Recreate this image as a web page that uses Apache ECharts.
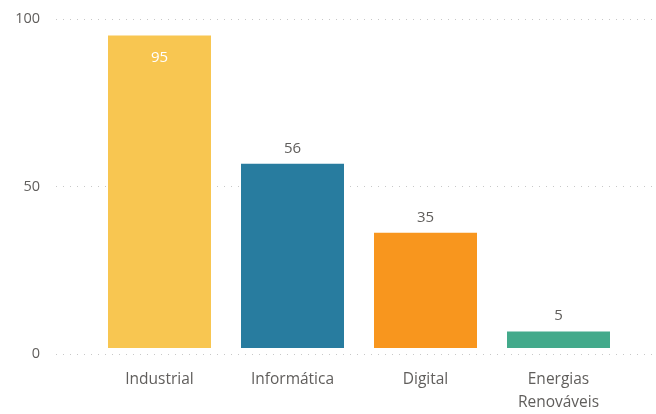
<!DOCTYPE html>
<html><head><meta charset="utf-8">
<script src="https://cdn.jsdelivr.net/npm/echarts@6/dist/echarts.min.js"></script>
<style>html,body{margin:0;padding:0;background:#fff}#c{width:656px;height:414px}</style>
</head><body><div id="c"></div>
<script>
const categories = ['Industrial', 'Informática', 'Digital', 'Energias\nRenováveis'];
const values = [95, 56, 35, 5];
const colors = ['#F8C651', '#287C9F', '#F8961E', '#43AA8B'];
const yTicks = [0, 50, 100];

const chart = echarts.init(document.getElementById('c'));
const font = '"Open Sans", "Noto Sans", sans-serif';
chart.setOption({
  animation: false,
  grid: [
    { left: 56, right: 0, top: 19, bottom: 60 },
    { left: 93, right: 31, top: 19, bottom: 60 }
  ],
  xAxis: [
    { gridIndex: 0, type: 'value', show: false, min: 0, max: 1 },
    { gridIndex: 1, type: 'category', data: categories,
      axisLine: { show: false }, axisTick: { show: false },
      axisLabel: { color: '#605E5C', fontSize: 15.5, fontFamily: font, margin: 20, lineHeight: 23 } }
  ],
  yAxis: [
    { gridIndex: 0, type: 'value', min: 0, max: 100, interval: 50,
      axisLine: { show: false }, axisTick: { show: false },
      axisLabel: { color: '#605E5C', fontSize: 14.5, fontFamily: font, margin: 16,
        formatter: v => yTicks.includes(v) ? String(v) : '' },
      splitLine: { lineStyle: { color: '#c8c8c8', type: [1, 6], width: 1 } } },
    { gridIndex: 1, type: 'value', min: 0, max: 100, interval: 50, show: false }
  ],
  series: [{
    type: 'bar', xAxisIndex: 1, yAxisIndex: 1,
    barWidth: 103,
    data: values.map((v, i) => ({
      value: v,
      itemStyle: { color: colors[i] },
      label: i === 0
        ? { show: true, position: 'insideTop', distance: 15, color: '#fff', fontSize: 15, fontFamily: font }
        : { show: true, position: 'top', distance: 8, color: '#605E5C', fontSize: 15, fontFamily: font }
    }))
  }]
});
</script></body></html>
